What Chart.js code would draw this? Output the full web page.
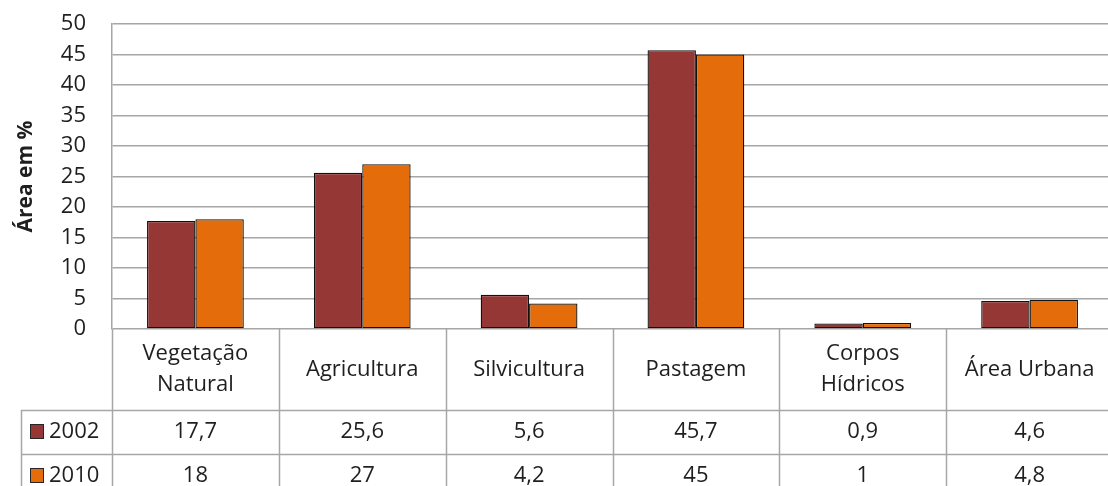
<!DOCTYPE html>
<html>
<head>
<meta charset="utf-8">
<script src="https://cdn.jsdelivr.net/npm/chart.js@4.4.1/dist/chart.umd.min.js"></script>
<style>
  html, body { margin: 0; padding: 0; background: #fff; overflow: hidden; }
  #wrap { width: 1113px; height: 486px; }
</style>
</head>
<body>
<div id="wrap"><canvas id="chart"></canvas></div>
<script>
const categories = [
  ['Vegetação', 'Natural'],
  ['Agricultura'],
  ['Silvicultura'],
  ['Pastagem'],
  ['Corpos', 'Hídricos'],
  ['Área Urbana']
];
const seriesNames = ['2002', '2010'];
const values2002 = [17.7, 25.6, 5.6, 45.7, 0.9, 4.6];
const values2010 = [18, 27, 4.2, 45, 1, 4.8];
const yTicks = [0, 5, 10, 15, 20, 25, 30, 35, 40, 45, 50];

const colors = ['#953735', '#E46C0A'];
const gridColor = '#a6a6a6';
const textColor = '#1f1f1f';
const fontFamily = '"Open Sans", sans-serif';

// ---- data table under the plot (Excel style) ----
const HEADER_H = 81;
const ROW_H = 44;
const TABLE_LEFT = 21;

const fmt = v => String(v).replace('.', ',');

const dataTablePlugin = {
  id: 'dataTable',
  afterDraw(chart) {
    const { ctx, chartArea } = chart;
    const n = categories.length;
    const colW = (chartArea.right - chartArea.left) / n;
    const top = chartArea.bottom;
    const bottom = chart.height;
    const rowsTop = top + HEADER_H;

    ctx.save();
    ctx.strokeStyle = gridColor;
    ctx.lineWidth = 1.5;

    // column borders
    for (let i = 0; i <= n; i++) {
      const x = Math.round(chartArea.left + i * colW) + 0.5;
      ctx.beginPath();
      ctx.moveTo(x, top);
      ctx.lineTo(x, bottom);
      ctx.stroke();
    }
    // legend column left border
    ctx.beginPath();
    ctx.moveTo(TABLE_LEFT + 0.5, rowsTop);
    ctx.lineTo(TABLE_LEFT + 0.5, bottom);
    ctx.stroke();
    // row borders
    [rowsTop, rowsTop + ROW_H].forEach(y => {
      ctx.beginPath();
      ctx.moveTo(TABLE_LEFT, Math.round(y) + 0.5);
      ctx.lineTo(chartArea.right, Math.round(y) + 0.5);
      ctx.stroke();
    });

    ctx.fillStyle = textColor;
    ctx.font = '22px ' + fontFamily;
    ctx.textAlign = 'center';
    ctx.textBaseline = 'middle';

    // category headers
    categories.forEach((lines, i) => {
      const cx = chartArea.left + (i + 0.5) * colW;
      const cy = top + HEADER_H / 2;
      const lh = 31;
      lines.forEach((line, j) => {
        ctx.fillText(line, cx, cy + (j - (lines.length - 1) / 2) * lh);
      });
    });

    // value rows with legend keys
    chart.data.datasets.forEach((ds, r) => {
      const cy = rowsTop + r * ROW_H + ROW_H / 2;
      ds.data.forEach((v, i) => {
        const cx = chartArea.left + (i + 0.5) * colW;
        ctx.fillStyle = textColor;
        ctx.textAlign = 'center';
        ctx.fillText(fmt(v), cx, cy);
      });
      ctx.fillStyle = ds.backgroundColor;
      ctx.fillRect(30, cy - 8, 13, 14);
      ctx.strokeStyle = '#262626';
      ctx.lineWidth = 1;
      ctx.strokeRect(30.5, cy - 7.5, 13, 14);
      ctx.fillStyle = textColor;
      ctx.textAlign = 'left';
      ctx.fillText(ds.label, 49, cy);
    });
    ctx.restore();
  }
};

new Chart(document.getElementById('chart'), {
  type: 'bar',
  data: {
    labels: categories.map(c => c.join(' ')),
    datasets: [
      {
        label: seriesNames[0],
        data: values2002,
        backgroundColor: colors[0],
        borderColor: '#111',
        borderWidth: 1.3,
        borderSkipped: false,
        categoryPercentage: 0.58,
        barPercentage: 1
      },
      {
        label: seriesNames[1],
        data: values2010,
        backgroundColor: colors[1],
        borderColor: '#111',
        borderWidth: 1.3,
        borderSkipped: false,
        categoryPercentage: 0.58,
        barPercentage: 1
      }
    ]
  },
  options: {
    responsive: true,
    maintainAspectRatio: false,
    animation: false,
    layout: { padding: { top: 24, right: 0, bottom: HEADER_H + 2 * ROW_H - 12, left: 0 } },
    plugins: {
      legend: { display: false },
      tooltip: { enabled: false }
    },
    scales: {
      x: { display: false },
      y: {
        min: 0,
        max: 50,
        afterBuildTicks: (scale) => { scale.ticks = yTicks.map(v => ({ value: v })); },
        afterFit: (scale) => {
          scale.width = 112;
          scale.paddingTop = 0;   // tick padding otherwise pushes the plot down
          scale.paddingBottom = 0;
        },
        ticks: {
          color: textColor,
          padding: 26,
          font: { family: fontFamily, size: 22 }
        },
        grid: { color: gridColor, lineWidth: 1.5, drawTicks: false },
        border: { color: gridColor, width: 1.5 },
        title: {
          display: true,
          text: 'Área em %',
          color: textColor,
          padding: { top: 13, bottom: 0 },
          font: { family: fontFamily, size: 21, weight: 'bold' }
        }
      }
    }
  },
  plugins: [dataTablePlugin]
});
</script>
</body>
</html>
